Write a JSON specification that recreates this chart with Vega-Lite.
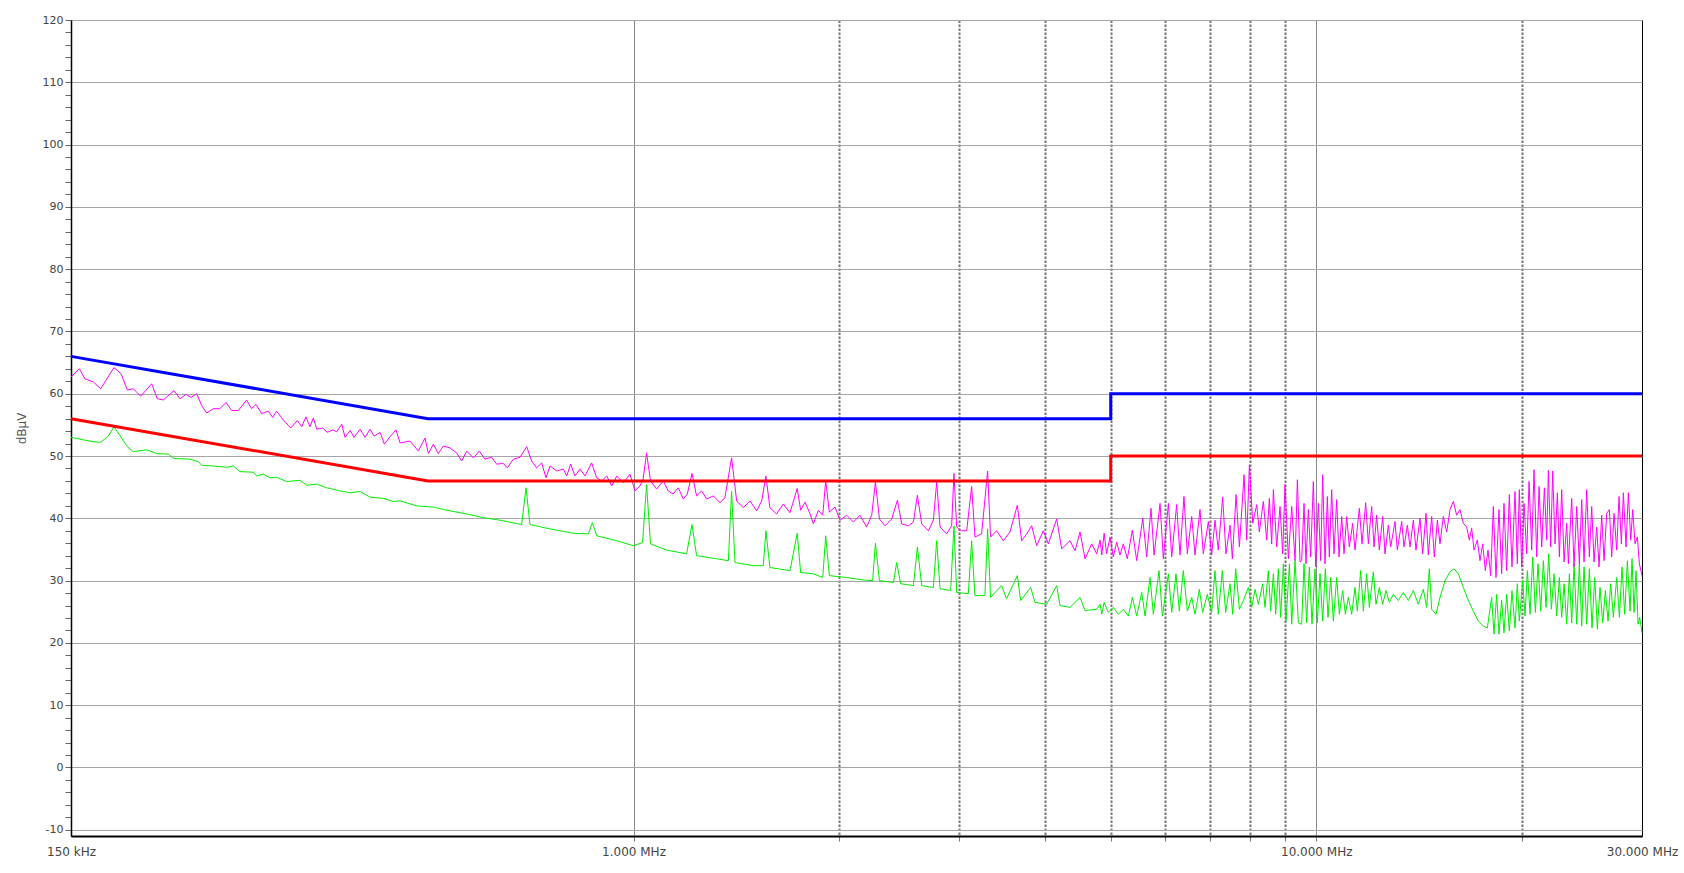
{
"$schema": "https://vega.github.io/schema/vega-lite/v6.json",
"width": 1571,
"height": 816,
"autosize": {"type": "none"},
"padding": {"left": 71, "top": 20, "right": 42, "bottom": 37},
"background": "white",
"config": {"view": {"stroke": "#000000", "strokeWidth": 1}, "font": "DejaVu Sans"},
"datasets": {
"pk": [
{"f":0.15,"v":62.7},{"f":0.1543,"v":64.0},{"f":0.1572,"v":62.4},{"f":0.1617,"v":61.9},{"f":0.1658,"v":60.8},{"f":0.1734,"v":64.2},{"f":0.1776,"v":63.2},{"f":0.1814,"v":60.6},{"f":0.1851,"v":60.8},{"f":0.1897,"v":59.6},{"f":0.1969,"v":61.6},{"f":0.2007,"v":59.2},{"f":0.2048,"v":59.0},{"f":0.2123,"v":60.5},{"f":0.2166,"v":59.2},{"f":0.2211,"v":59.9},{"f":0.2248,"v":59.4},{"f":0.2292,"v":60.0},{"f":0.2331,"v":58.1},{"f":0.2370,"v":56.9},{"f":0.2424,"v":57.6},{"f":0.2479,"v":57.6},{"f":0.2530,"v":58.6},{"f":0.2579,"v":57.3},{"f":0.2637,"v":57.3},{"f":0.2712,"v":59.0},{"f":0.2758,"v":57.6},{"f":0.2799,"v":58.3},{"f":0.2853,"v":56.8},{"f":0.2918,"v":57.2},{"f":0.2961,"v":56.2},{"f":0.3001,"v":57.2},{"f":0.3069,"v":55.8},{"f":0.3147,"v":54.5},{"f":0.3218,"v":55.7},{"f":0.3266,"v":54.7},{"f":0.3313,"v":56.3},{"f":0.3358,"v":54.7},{"f":0.3397,"v":56.1},{"f":0.3436,"v":54.3},{"f":0.3506,"v":54.5},{"f":0.3561,"v":53.8},{"f":0.3626,"v":54.2},{"f":0.3675,"v":53.9},{"f":0.3738,"v":55.1},{"f":0.3780,"v":53.0},{"f":0.3845,"v":54.1},{"f":0.3897,"v":53.0},{"f":0.3977,"v":54.3},{"f":0.4044,"v":53.0},{"f":0.4113,"v":54.3},{"f":0.4169,"v":53.2},{"f":0.4254,"v":53.8},{"f":0.4316,"v":51.9},{"f":0.4399,"v":53.1},{"f":0.4488,"v":54.2},
{"f":0.4550,"v":52.1},{"f":0.4706,"v":52.4},{"f":0.4840,"v":50.8},{"f":0.4950,"v":52.9},{"f":0.5007,"v":50.4},{"f":0.5091,"v":51.9},{"f":0.5177,"v":50.4},{"f":0.5265,"v":51.6},{"f":0.5385,"v":51.3},{"f":0.5508,"v":50.5},{"f":0.5602,"v":49.2},{"f":0.5698,"v":50.8},{"f":0.5827,"v":49.7},{"f":0.5945,"v":50.8},{"f":0.6060,"v":49.5},{"f":0.6198,"v":49.8},{"f":0.6303,"v":48.7},{"f":0.6447,"v":48.8},{"f":0.6534,"v":48.1},{"f":0.6668,"v":49.5},{"f":0.6819,"v":49.8},{"f":0.6975,"v":51.5},{"f":0.7092,"v":49.2},{"f":0.7213,"v":48.1},{"f":0.7337,"v":48.9},{"f":0.7444,"v":46.5},{"f":0.7546,"v":48.4},{"f":0.7719,"v":47.6},{"f":0.7893,"v":47.9},{"f":0.7982,"v":46.8},{"f":0.8091,"v":48.7},{"f":0.8209,"v":46.8},{"f":0.8349,"v":47.9},{"f":0.8492,"v":46.8},{"f":0.8683,"v":48.9},{"f":0.8832,"v":46.5},{"f":0.8982,"v":46.0},{"f":0.9135,"v":46.8},{"f":0.9291,"v":45.2},{"f":0.9450,"v":46.8},{"f":0.9663,"v":45.7},{"f":0.9883,"v":47.1},{"f":1.005,"v":44.4},{"f":1.022,"v":45.2},{"f":1.033,"v":46.3},{"f":1.045,"v":50.5},{"f":1.059,"v":46.0},{"f":1.081,"v":44.7},{"f":1.106,"v":46.0},{"f":1.124,"v":44.4},{"f":1.143,"v":43.9},{"f":1.163,"v":44.9},{"f":1.183,"v":43.1},{"f":1.199,"v":43.9},{"f":1.218,"v":47.2},{"f":1.237,"v":43.6},{"f":1.258,"v":44.4},{"f":1.280,"v":43.1},{"f":1.309,"v":43.6},{"f":1.339,"v":42.5},{"f":1.361,"v":43.3},{"f":1.392,"v":49.7},{"f":1.416,"v":42.8},{"f":1.448,"v":41.7},{"f":1.481,"v":42.8},{"f":1.515,"v":41.2},{"f":1.541,"v":42.8},{"f":1.563,"v":46.8},{"f":1.584,"v":41.7},{"f":1.620,"v":40.7},{"f":1.657,"v":42.3},{"f":1.695,"v":40.9},{"f":1.737,"v":44.8},
{"f":1.757,"v":41.3},{"f":1.783,"v":42.6},{"f":1.814,"v":40.7},{"f":1.834,"v":39.1},{"f":1.865,"v":41.3},{"f":1.893,"v":40.5},{"f":1.912,"v":46.0},{"f":1.936,"v":41.0},{"f":1.973,"v":41.8},{"f":2.007,"v":39.7},{"f":2.052,"v":40.5},{"f":2.099,"v":39.4},{"f":2.146,"v":40.5},{"f":2.195,"v":38.6},{"f":2.233,"v":40.5},{"f":2.261,"v":45.8},{"f":2.292,"v":39.9},{"f":2.336,"v":38.8},{"f":2.389,"v":39.9},{"f":2.435,"v":42.9},{"f":2.471,"v":39.1},{"f":2.527,"v":38.8},{"f":2.570,"v":39.4},{"f":2.605,"v":43.7},{"f":2.643,"v":39.1},{"f":2.703,"v":38.0},{"f":2.749,"v":39.7},{"f":2.780,"v":45.8},{"f":2.812,"v":38.6},{"f":2.875,"v":37.5},{"f":2.924,"v":38.8},{"f":2.947,"v":47.2},{"f":2.974,"v":38.6},{"f":3.024,"v":38.0},{"f":3.076,"v":38.0},{"f":3.128,"v":45.1},{"f":3.163,"v":37.0},{"f":3.235,"v":37.5},{"f":3.301,"v":47.6},{"f":3.334,"v":37.0},{"f":3.403,"v":38.0},{"f":3.480,"v":36.4},{"f":3.559,"v":37.8},{"f":3.649,"v":42.1},{"f":3.703,"v":36.4},{"f":3.766,"v":37.5},{"f":3.830,"v":38.8},{"f":3.895,"v":35.6},{"f":3.983,"v":38.0},{"f":4.051,"v":35.9},{"f":4.167,"v":39.9},{"f":4.238,"v":35.1},{"f":4.358,"v":36.4},{"f":4.433,"v":34.8},{"f":4.508,"v":37.8},{"f":4.585,"v":33.5},{"f":4.689,"v":35.9},{"f":4.769,"v":34.3},
{"f":4.824,"v":36.5},{"f":4.851,"v":34.1},{"f":4.890,"v":37.6},{"f":4.932,"v":34.3},{"f":4.988,"v":37.0},{"f":5.044,"v":33.8},{"f":5.101,"v":36.2},{"f":5.159,"v":34.1},{"f":5.217,"v":35.9},{"f":5.288,"v":33.5},{"f":5.378,"v":38.1},{"f":5.458,"v":33.2},{"f":5.570,"v":40.0},{"f":5.645,"v":33.8},{"f":5.728,"v":41.6},{"f":5.787,"v":34.1},{"f":5.905,"v":42.4},{"f":5.971,"v":33.5},{"f":6.074,"v":42.4},{"f":6.142,"v":33.8},{"f":6.245,"v":42.2},{"f":6.316,"v":34.1},{"f":6.401,"v":43.5},{"f":6.474,"v":34.3},{"f":6.570,"v":40.3},{"f":6.644,"v":34.1},{"f":6.756,"v":41.4},{"f":6.833,"v":34.3},{"f":6.950,"v":39.5},{"f":7.028,"v":34.1},{"f":7.107,"v":39.7},{"f":7.187,"v":34.9},{"f":7.293,"v":43.4},{"f":7.376,"v":34.3},{"f":7.477,"v":38.9},{"f":7.536,"v":33.5},{"f":7.630,"v":43.8},{"f":7.717,"v":35.4},{"f":7.839,"v":47.0},{"f":7.910,"v":36.5},{"f":7.981,"v":48.6},{"f":8.072,"v":39.2},{"f":8.181,"v":42.2},{"f":8.254,"v":37.8},{"f":8.366,"v":42.7},{"f":8.461,"v":36.5},{"f":8.537,"v":43.2},{"f":8.605,"v":35.9},{"f":8.654,"v":44.6},{"f":8.750,"v":35.4},{"f":8.850,"v":41.9},{"f":8.930,"v":34.3},{"f":9.000,"v":45.4},{"f":9.103,"v":33.5},{"f":9.205,"v":41.9},{"f":9.310,"v":33.2},{"f":9.383,"v":46.2},{"f":9.468,"v":33.0},
{"f":9.520,"v":33.2},{"f":9.596,"v":42.4},{"f":9.660,"v":32.7},{"f":9.737,"v":41.4},{"f":9.814,"v":33.8},{"f":9.902,"v":45.9},{"f":9.981,"v":32.2},{"f":10.071,"v":42.4},{"f":10.150,"v":33.2},{"f":10.219,"v":47.0},{"f":10.300,"v":32.7},{"f":10.381,"v":43.5},{"f":10.451,"v":33.8},{"f":10.534,"v":44.6},{"f":10.617,"v":34.3},{"f":10.713,"v":43.0},{"f":10.798,"v":33.8},{"f":10.896,"v":40.3},{"f":10.982,"v":34.3},{"f":11.081,"v":40.3},{"f":11.181,"v":35.4},{"f":11.307,"v":39.2},{"f":11.397,"v":34.9},{"f":11.564,"v":41.6},{"f":11.669,"v":35.9},{"f":11.814,"v":42.5},{"f":11.921,"v":35.9},{"f":12.055,"v":41.9},{"f":12.151,"v":35.4},{"f":12.260,"v":40.5},{"f":12.371,"v":34.9},{"f":12.511,"v":40.3},{"f":12.610,"v":34.3},{"f":12.752,"v":38.9},{"f":12.853,"v":35.4},{"f":13.043,"v":39.5},{"f":13.145,"v":34.9},{"f":13.339,"v":39.5},{"f":13.444,"v":35.4},{"f":13.596,"v":38.9},{"f":13.719,"v":35.4},{"f":13.874,"v":39.7},{"f":13.999,"v":34.9},{"f":14.189,"v":40.0},{"f":14.318,"v":34.3},{"f":14.480,"v":40.8},{"f":14.594,"v":34.1},{"f":14.759,"v":40.3},{"f":14.892,"v":33.8},{"f":15.044,"v":39.7},{"f":15.179,"v":35.9},{"f":15.351,"v":40.3},{"f":15.525,"v":37.8},{"f":15.700,"v":41.4},{"f":15.878,"v":42.7},{"f":16.057,"v":40.5},{"f":16.239,"v":41.4},{"f":16.422,"v":39.2},{"f":16.608,"v":38.6},{"f":16.758,"v":36.5},{"f":16.890,"v":38.4},{"f":17.024,"v":34.9},{"f":17.216,"v":36.5},{"f":17.372,"v":33.2},{"f":17.529,"v":35.9},{"f":17.687,"v":31.6},{"f":17.847,"v":34.9},{"f":18.008,"v":30.8},{"f":18.170,"v":41.9},{"f":18.334,"v":30.5},{"f":18.521,"v":41.4},{"f":18.688,"v":31.1},{"f":18.836,"v":42.4},{"f":19.006,"v":31.6},{"f":19.178,"v":43.8},{"f":19.351,"v":32.2},{"f":19.548,"v":44.3},{"f":19.702,"v":32.7},{"f":19.835,"v":44.6},
{"f":19.996,"v":32.2},{"f":20.154,"v":42.4},{"f":20.336,"v":34.3},{"f":20.497,"v":45.9},{"f":20.682,"v":34.9},{"f":20.845,"v":47.8},{"f":21.034,"v":33.8},{"f":21.200,"v":45.1},{"f":21.391,"v":35.4},{"f":21.584,"v":44.9},{"f":21.755,"v":36.5},{"f":21.877,"v":47.7},{"f":22.050,"v":35.4},{"f":22.199,"v":47.6},{"f":22.375,"v":35.9},{"f":22.552,"v":44.1},{"f":22.704,"v":33.8},{"f":22.884,"v":44.6},{"f":23.065,"v":33.0},{"f":23.273,"v":39.2},{"f":23.404,"v":32.7},{"f":23.668,"v":43.2},{"f":23.855,"v":32.2},{"f":24.071,"v":41.9},{"f":24.288,"v":32.7},{"f":24.480,"v":43.0},{"f":24.673,"v":33.0},{"f":24.897,"v":44.6},{"f":25.121,"v":33.8},{"f":25.320,"v":41.9},{"f":25.519,"v":33.0},{"f":25.750,"v":38.6},{"f":25.954,"v":32.2},{"f":26.188,"v":40.5},{"f":26.395,"v":33.2},{"f":26.634,"v":40.8},{"f":26.874,"v":41.4},{"f":27.086,"v":33.8},{"f":27.300,"v":40.8},{"f":27.547,"v":34.9},{"f":27.764,"v":43.5},{"f":27.984,"v":35.9},{"f":28.173,"v":44.1},{"f":28.427,"v":35.4},{"f":28.652,"v":44.1},{"f":28.879,"v":36.5},{"f":29.074,"v":41.4},{"f":29.304,"v":35.9},{"f":29.535,"v":37.0},{"f":29.735,"v":32.7},{"f":30.0,"v":30.8}
],
"av": [
{"f":0.15,"v":53.0},{"f":0.1564,"v":52.6},{"f":0.1617,"v":52.3},{"f":0.1658,"v":52.2},{"f":0.1701,"v":53.2},{"f":0.1734,"v":54.7},{"f":0.1776,"v":53.0},{"f":0.1814,"v":51.5},{"f":0.1851,"v":50.7},{"f":0.1936,"v":51.0},{"f":0.2003,"v":50.4},{"f":0.2083,"v":50.3},{"f":0.2123,"v":49.6},{"f":0.2241,"v":49.5},{"f":0.2305,"v":49.1},{"f":0.2331,"v":48.5},{"f":0.2424,"v":48.4},{"f":0.2536,"v":48.2},{"f":0.2593,"v":48.4},{"f":0.2652,"v":47.5},{"f":0.2774,"v":47.4},{"f":0.2806,"v":46.8},{"f":0.2869,"v":47.1},{"f":0.2935,"v":46.5},{"f":0.3001,"v":46.6},{"f":0.3105,"v":45.9},{"f":0.3248,"v":46.1},{"f":0.3322,"v":45.3},{"f":0.3436,"v":45.5},{"f":0.3554,"v":44.9},{"f":0.3716,"v":44.4},{"f":0.3845,"v":44.1},{"f":0.3977,"v":44.3},{"f":0.4113,"v":43.4},{"f":0.4301,"v":43.2},{"f":0.4449,"v":42.7},
{"f":0.4550,"v":42.8},{"f":0.4813,"v":42.0},{"f":0.5091,"v":41.8},{"f":0.5385,"v":41.2},{"f":0.5698,"v":40.7},{"f":0.6026,"v":40.1},{"f":0.6375,"v":39.7},{"f":0.6858,"v":39.0},{"f":0.6959,"v":44.9},{"f":0.7053,"v":39.0},{"f":0.7546,"v":38.3},{"f":0.8162,"v":37.6},{"f":0.8587,"v":37.5},{"f":0.8703,"v":39.3},{"f":0.8832,"v":37.2},{"f":0.9450,"v":36.4},{"f":0.9993,"v":35.6},{"f":1.031,"v":36.1},{"f":1.045,"v":45.4},{"f":1.059,"v":35.9},{"f":1.118,"v":34.9},{"f":1.196,"v":34.3},{"f":1.218,"v":39.0},{"f":1.237,"v":34.0},{"f":1.324,"v":33.5},{"f":1.377,"v":33.2},{"f":1.392,"v":44.3},{"f":1.408,"v":32.9},{"f":1.498,"v":32.4},{"f":1.549,"v":32.4},{"f":1.563,"v":38.0},{"f":1.584,"v":32.1},{"f":1.695,"v":31.6},{"f":1.737,"v":37.6},
{"f":1.757,"v":31.3},{"f":1.834,"v":31.1},{"f":1.893,"v":30.5},{"f":1.912,"v":37.2},{"f":1.936,"v":30.8},{"f":2.052,"v":30.5},{"f":2.171,"v":30.1},{"f":2.240,"v":30.0},{"f":2.261,"v":36.0},{"f":2.292,"v":30.0},{"f":2.403,"v":29.7},{"f":2.429,"v":32.9},{"f":2.462,"v":29.5},{"f":2.570,"v":29.2},{"f":2.605,"v":35.4},{"f":2.643,"v":29.2},{"f":2.749,"v":28.9},{"f":2.780,"v":36.4},{"f":2.812,"v":28.7},{"f":2.914,"v":28.4},{"f":2.947,"v":38.8},{"f":2.974,"v":28.1},{"f":3.093,"v":27.9},{"f":3.128,"v":36.4},{"f":3.163,"v":27.6},{"f":3.271,"v":27.6},{"f":3.301,"v":38.3},{"f":3.334,"v":27.3},{"f":3.460,"v":29.2},{"f":3.519,"v":27.1},{"f":3.649,"v":30.8},{"f":3.690,"v":26.8},{"f":3.817,"v":28.9},{"f":3.873,"v":26.5},{"f":4.028,"v":26.2},{"f":4.167,"v":29.2},{"f":4.214,"v":26.0},{"f":4.358,"v":25.7},{"f":4.508,"v":27.3},{"f":4.585,"v":25.2},{"f":4.769,"v":25.4},
{"f":4.824,"v":26.2},{"f":4.851,"v":24.6},{"f":4.890,"v":26.5},{"f":4.960,"v":24.9},{"f":5.044,"v":25.7},{"f":5.130,"v":24.6},{"f":5.217,"v":25.4},{"f":5.306,"v":24.3},{"f":5.378,"v":27.3},{"f":5.458,"v":24.3},{"f":5.551,"v":28.1},{"f":5.614,"v":24.3},{"f":5.709,"v":30.5},{"f":5.773,"v":24.6},{"f":5.885,"v":31.6},{"f":5.952,"v":24.3},{"f":6.074,"v":31.1},{"f":6.142,"v":24.9},{"f":6.231,"v":31.1},{"f":6.302,"v":25.1},{"f":6.387,"v":31.6},{"f":6.474,"v":25.1},{"f":6.570,"v":27.3},{"f":6.644,"v":24.6},{"f":6.742,"v":28.6},{"f":6.818,"v":24.9},{"f":6.926,"v":27.8},{"f":7.028,"v":24.9},{"f":7.107,"v":31.6},{"f":7.187,"v":24.6},{"f":7.285,"v":31.6},{"f":7.367,"v":24.9},{"f":7.477,"v":29.5},{"f":7.545,"v":24.6},{"f":7.621,"v":31.9},{"f":7.717,"v":25.4},{"f":7.822,"v":26.8},{"f":7.954,"v":28.9},{"f":8.044,"v":25.7},{"f":8.135,"v":28.6},{"f":8.227,"v":26.2},{"f":8.348,"v":29.5},{"f":8.413,"v":25.7},{"f":8.508,"v":31.6},{"f":8.575,"v":25.1},{"f":8.654,"v":31.1},{"f":8.722,"v":24.6},{"f":8.800,"v":31.9},{"f":8.870,"v":24.1},{"f":8.950,"v":32.7},{"f":9.031,"v":23.5},{"f":9.135,"v":32.7},{"f":9.205,"v":23.0},{"f":9.310,"v":33.2},{"f":9.415,"v":23.2},
{"f":9.520,"v":23.0},{"f":9.596,"v":32.7},{"f":9.682,"v":23.2},{"f":9.770,"v":32.2},{"f":9.858,"v":23.0},{"f":9.958,"v":31.9},{"f":10.037,"v":23.2},{"f":10.128,"v":31.1},{"f":10.219,"v":23.5},{"f":10.312,"v":31.9},{"f":10.405,"v":24.1},{"f":10.499,"v":30.5},{"f":10.594,"v":23.5},{"f":10.713,"v":30.5},{"f":10.810,"v":24.6},{"f":10.932,"v":28.4},{"f":11.031,"v":24.6},{"f":11.143,"v":27.3},{"f":11.270,"v":24.6},{"f":11.397,"v":28.9},{"f":11.487,"v":25.1},{"f":11.617,"v":31.6},{"f":11.721,"v":25.1},{"f":11.854,"v":31.1},{"f":11.961,"v":25.7},{"f":12.123,"v":31.4},{"f":12.233,"v":26.2},{"f":12.371,"v":28.9},{"f":12.511,"v":26.2},{"f":12.652,"v":28.4},{"f":12.796,"v":26.5},{"f":12.969,"v":27.8},{"f":13.190,"v":26.8},{"f":13.414,"v":28.1},{"f":13.642,"v":26.8},{"f":13.874,"v":28.4},{"f":14.110,"v":26.2},{"f":14.350,"v":28.6},{"f":14.512,"v":25.7},{"f":14.643,"v":31.9},{"f":14.759,"v":25.4},{"f":14.976,"v":24.6},{"f":15.179,"v":27.3},{"f":15.438,"v":30.0},{"f":15.700,"v":31.4},{"f":15.914,"v":31.9},{"f":16.148,"v":31.1},{"f":16.422,"v":28.9},{"f":16.702,"v":26.8},{"f":16.985,"v":25.1},{"f":17.274,"v":23.5},{"f":17.568,"v":22.7},{"f":17.807,"v":22.4},{"f":18.068,"v":27.3},{"f":18.211,"v":21.4},{"f":18.376,"v":27.8},{"f":18.521,"v":21.4},{"f":18.688,"v":26.8},{"f":18.836,"v":21.6},{"f":19.006,"v":27.8},{"f":19.178,"v":21.9},{"f":19.351,"v":28.4},{"f":19.548,"v":22.4},{"f":19.702,"v":29.5},{"f":19.835,"v":23.5},
{"f":20.064,"v":30.0},{"f":20.222,"v":24.3},{"f":20.382,"v":31.6},{"f":20.566,"v":24.6},{"f":20.752,"v":33.8},{"f":20.939,"v":24.9},{"f":21.128,"v":32.7},{"f":21.319,"v":25.1},{"f":21.512,"v":33.2},{"f":21.706,"v":25.7},{"f":21.902,"v":34.3},{"f":22.100,"v":25.4},{"f":22.300,"v":31.1},{"f":22.501,"v":24.3},{"f":22.704,"v":30.5},{"f":22.884,"v":24.1},{"f":23.065,"v":29.5},{"f":23.273,"v":23.0},{"f":23.483,"v":31.1},{"f":23.668,"v":23.2},{"f":23.855,"v":32.7},{"f":24.071,"v":23.0},{"f":24.288,"v":32.7},{"f":24.480,"v":22.7},{"f":24.673,"v":32.2},{"f":24.897,"v":23.0},{"f":25.121,"v":31.9},{"f":25.348,"v":22.4},{"f":25.577,"v":30.5},{"f":25.808,"v":22.2},{"f":26.041,"v":28.9},{"f":26.277,"v":23.2},{"f":26.514,"v":28.4},{"f":26.754,"v":23.5},{"f":26.996,"v":29.5},{"f":27.239,"v":24.1},{"f":27.547,"v":30.5},{"f":27.796,"v":24.1},{"f":28.047,"v":32.2},{"f":28.300,"v":24.6},{"f":28.556,"v":33.2},{"f":28.814,"v":25.1},{"f":29.008,"v":33.5},{"f":29.205,"v":24.9},{"f":29.403,"v":31.6},{"f":29.602,"v":23.0},{"f":29.769,"v":24.1},{"f":30.0,"v":21.6}
],
"lim": [
{"f":0.15,"v":66,"s":"QP","i":0},{"f":0.5,"v":56,"s":"QP","i":1},{"f":5,"v":56,"s":"QP","i":2},{"f":5,"v":60,"s":"QP","i":3},{"f":30,"v":60,"s":"QP","i":4},
{"f":0.15,"v":56,"s":"AV","i":0},{"f":0.5,"v":46,"s":"AV","i":1},{"f":5,"v":46,"s":"AV","i":2},{"f":5,"v":50,"s":"AV","i":3},{"f":30,"v":50,"s":"AV","i":4}
]
},
"encoding": {
"x": {"field": "f", "type": "quantitative", "scale": {"type": "log", "domain": [0.15, 30], "nice": false},
 "axis": {"values": [0.15,1,2,3,4,5,6,7,8,9,10,20,30], "tickCount": 100,
  "labelExpr": "datum.value == 0.15 ? '150 kHz' : datum.value == 1 ? '1.000 MHz' : datum.value == 10 ? '10.000 MHz' : datum.value == 30 ? '30.000 MHz' : ''",
  "labelFlush": false, "labelOverlap": false, "labelBound": false,
  "grid": true,
  "gridColor": {"condition": {"test": "datum.value == 1 || datum.value == 10", "value": "#8a8a8a"}, "value": "#777777"},
  "gridWidth": {"condition": {"test": "datum.value == 1 || datum.value == 10", "value": 1}, "value": 2},
  "gridDash": {"condition": {"test": "datum.value == 1 || datum.value == 10", "value": []}, "value": [2.5, 1.5]},
  "gridOpacity": {"condition": {"test": "datum.value == 0.15 || datum.value == 30", "value": 0}, "value": 1},
  "tickSize": 5, "tickColor": "#777777",
  "tickOpacity": {"condition": {"test": "datum.value == 0.15 || datum.value == 30", "value": 0}, "value": 1},
  "domainColor": "#000000", "domainWidth": 2,
  "labelFont": "DejaVu Sans", "labelFontSize": 12, "labelColor": "#444444", "labelPadding": 5,
  "title": null}},
"y": {"field": "v", "type": "quantitative", "scale": {"domain": [-11, 120], "nice": false, "zero": false},
 "axis": {"values": [-10,-8,-6,-4,-2,0,2,4,6,8,10,12,14,16,18,20,22,24,26,28,30,32,34,36,38,40,42,44,46,48,50,52,54,56,58,60,62,64,66,68,70,72,74,76,78,80,82,84,86,88,90,92,94,96,98,100,102,104,106,108,110,112,114,116,118,120],
  "tickCount": 200,
  "labelExpr": "datum.value % 10 === 0 ? '' + datum.value : ''",
  "grid": true, "gridColor": "#a6a6a6", "gridWidth": 1,
  "gridOpacity": {"condition": {"test": "datum.value % 10 === 0", "value": 1}, "value": 0},
  "tickSize": 6, "tickColor": "#666666",
  "domainColor": "#000000", "domainWidth": 1.5,
  "labelFont": "DejaVu Sans", "labelFontSize": 11, "labelColor": "#444444", "labelPadding": 2, "labelOverlap": false,
  "title": "dBµV", "titleFont": "DejaVu Sans", "titleFontSize": 12, "titleFontWeight": "normal", "titleColor": "#555555", "titlePadding": 14}}
},
"layer": [
{"data": {"name": "av"}, "mark": {"type": "line", "color": "#00ee00", "strokeWidth": 1}},
{"data": {"name": "pk"}, "mark": {"type": "line", "color": "#ff00ff", "strokeWidth": 1}},
{"data": {"name": "lim"}, "mark": {"type": "line", "strokeWidth": 3},
 "encoding": {
 "color": {"field": "s", "type": "nominal", "scale": {"domain": ["QP", "AV"], "range": ["#0000ff", "#ff0000"]}, "legend": null},
 "order": {"field": "i", "type": "quantitative"}}}
]
}
